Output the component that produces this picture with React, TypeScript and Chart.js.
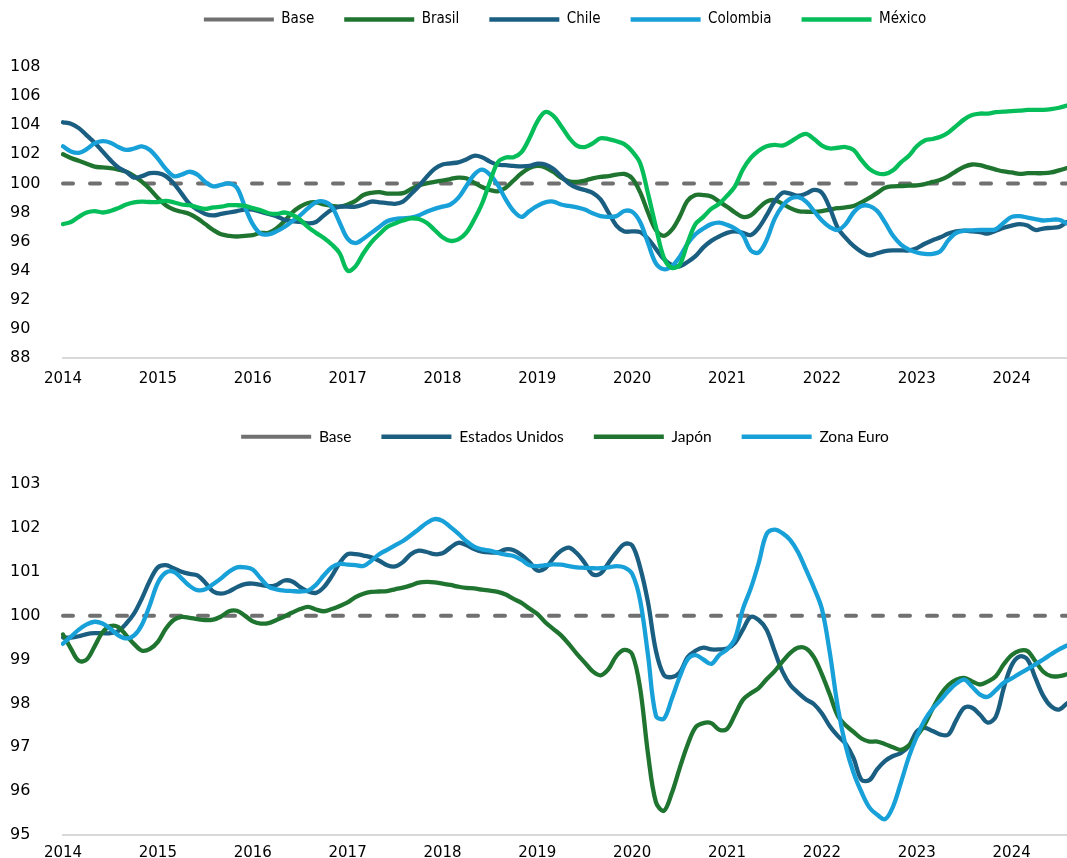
import { useEffect, useRef } from "react";
import { Chart, registerables } from "chart.js";

Chart.register(...registerables);

// ---------- categories (monthly, Jan 2014 – Aug 2024) ----------
const years = [2014, 2015, 2016, 2017, 2018, 2019, 2020, 2021, 2022, 2023, 2024];
const lastLabel = "2024-08";
const labels: string[] = [];
for (const y of years) {
  for (let mo = 1; mo <= 12; mo++) {
    const l = `${y}-${String(mo).padStart(2, "0")}`;
    if (labels.length === 0 || labels[labels.length - 1] !== lastLabel) labels.push(l);
  }
}

// ---------- top panel series ----------
const brasil = [
  102.0, 101.75, 101.55, 101.35, 101.15, 101.1, 101.05, 100.95, 100.8, 100.5, 100.1, 99.6,
  99.0, 98.5, 98.2, 98.05, 97.9, 97.6, 97.2, 96.8, 96.5, 96.4, 96.35, 96.4,
  96.45, 96.6, 96.6, 96.9, 97.4, 98.0, 98.4, 98.65, 98.7, 98.55, 98.45, 98.4,
  98.55, 98.8, 99.2, 99.35, 99.4, 99.3, 99.3, 99.33, 99.6, 99.85, 100.0, 100.1,
  100.2, 100.3, 100.4, 100.35, 100.05, 99.75, 99.55, 99.45, 99.7, 100.2, 100.7, 101.05,
  101.2, 101.1, 100.8, 100.4, 100.15, 100.1, 100.2, 100.35, 100.45, 100.5, 100.6, 100.65,
  100.35, 99.4, 98.0, 96.8, 96.4, 96.8, 97.7, 98.8, 99.2, 99.2, 99.1, 98.75,
  98.4, 98.0, 97.7, 97.8, 98.3, 98.75, 98.85, 98.6, 98.3, 98.1, 98.05, 98.05,
  98.1, 98.2, 98.3, 98.35, 98.45, 98.7, 99.0, 99.35, 99.7, 99.8, 99.82, 99.85,
  99.87, 99.95, 100.1, 100.25, 100.5, 100.85, 101.15, 101.3, 101.25, 101.1, 100.95, 100.82,
  100.75, 100.65, 100.7, 100.7, 100.7, 100.75, 100.9, 101.05,
];
const chile = [
  104.2, 104.1, 103.8, 103.3, 102.8, 102.2, 101.6, 101.1, 100.8, 100.4, 100.5, 100.7,
  100.7, 100.5, 100.0, 99.3, 98.6, 98.2, 97.9, 97.8, 97.9, 98.0, 98.1, 98.2,
  98.2, 98.05, 97.9, 97.75, 97.5, 97.4, 97.35, 97.25, 97.35, 97.8, 98.2, 98.4,
  98.4, 98.4, 98.55, 98.75, 98.7, 98.65, 98.6, 98.75, 99.25, 99.8, 100.45, 101.0,
  101.3, 101.38, 101.45, 101.65, 101.9, 101.8, 101.5, 101.28, 101.25, 101.2, 101.17, 101.2,
  101.35, 101.3, 101.0, 100.5, 100.0, 99.7, 99.55, 99.35, 98.9, 98.0, 97.1, 96.7,
  96.7, 96.65, 96.2, 95.5, 94.8, 94.4, 94.3, 94.6, 95.0, 95.6, 96.05, 96.35,
  96.6, 96.7, 96.6, 96.45, 96.95, 97.8, 98.75, 99.35, 99.3, 99.15, 99.3, 99.55,
  99.35, 98.3, 96.95, 96.25, 95.7, 95.3, 95.05, 95.2, 95.35, 95.4, 95.4, 95.4,
  95.55, 95.85, 96.1, 96.3, 96.55, 96.7, 96.75, 96.7, 96.65, 96.55, 96.75, 96.95,
  97.1, 97.2, 97.1, 96.8, 96.9, 96.95, 97.0, 97.35,
];
const colombia = [
  102.55, 102.2, 102.1, 102.35, 102.75, 102.9, 102.8, 102.5, 102.3, 102.4, 102.55, 102.3,
  101.7, 101.0, 100.5, 100.6, 100.8, 100.6, 100.1, 99.8, 99.9, 100.0, 99.7, 98.4,
  97.2, 96.55, 96.5, 96.7, 97.0, 97.4, 97.8, 98.3, 98.7, 98.75, 98.4, 97.3,
  96.2, 95.9, 96.2, 96.6, 97.0, 97.4, 97.55, 97.6, 97.65, 97.8, 98.05, 98.25,
  98.4, 98.55, 99.0, 99.8, 100.6, 100.95, 100.6, 99.9, 98.9, 98.1, 97.7, 98.1,
  98.45, 98.7, 98.75, 98.55, 98.45, 98.35, 98.2, 97.95, 97.75, 97.7, 97.75, 98.1,
  98.05, 97.35, 95.9, 94.5, 94.1, 94.3, 94.95, 95.85, 96.5, 96.9, 97.2, 97.3,
  97.15, 96.9, 96.45, 95.4, 95.25, 96.1, 97.55, 98.45, 98.95, 99.05, 98.75, 98.1,
  97.45, 97.0, 96.8, 97.2, 98.0, 98.45, 98.45, 98.1, 97.3, 96.4, 95.8, 95.45,
  95.25, 95.15, 95.15, 95.35, 96.1, 96.6, 96.75, 96.77, 96.8, 96.8, 96.85, 97.3,
  97.7, 97.75, 97.65, 97.55, 97.45, 97.5, 97.5, 97.25,
];
const mexico = [
  97.2, 97.35, 97.7, 98.0, 98.1, 98.0, 98.1, 98.3, 98.55, 98.7, 98.75, 98.72,
  98.72, 98.8, 98.7, 98.55, 98.5, 98.35, 98.25, 98.35, 98.4, 98.5, 98.5, 98.45,
  98.3, 98.15, 97.95, 97.9, 98.0, 97.85, 97.5, 97.0, 96.6, 96.25, 95.8, 95.2,
  94.0, 94.3, 95.2, 95.95, 96.5, 97.0, 97.25, 97.45, 97.6, 97.55, 97.3, 96.8,
  96.3, 96.05, 96.15, 96.6, 97.5, 98.6, 100.1, 101.45, 101.78, 101.8, 102.15, 103.1,
  104.25, 104.9, 104.65, 103.95, 103.15, 102.6, 102.5, 102.75, 103.1, 103.05, 102.9, 102.7,
  102.2, 101.4, 99.3, 97.0, 94.9, 94.2, 94.4, 95.9, 97.2, 97.7, 98.25, 98.6,
  99.15, 99.8, 100.95, 101.75, 102.25, 102.55, 102.65, 102.6, 102.85, 103.2, 103.4, 103.05,
  102.6, 102.4, 102.45, 102.5, 102.3, 101.6, 101.0, 100.7, 100.65, 100.9, 101.45, 101.9,
  102.55, 102.95, 103.05, 103.2, 103.5, 103.95, 104.4, 104.7, 104.8, 104.8, 104.9, 104.93,
  104.97, 105.0, 105.05, 105.05, 105.05, 105.1, 105.2, 105.35,
];

// ---------- bottom panel series ----------
const estadosUnidos = [
  99.5, 99.5, 99.53, 99.58, 99.6, 99.6, 99.6, 99.65, 99.82, 100.05, 100.4, 100.8,
  101.1, 101.15, 101.08, 101.0, 100.95, 100.92, 100.75, 100.55, 100.5, 100.55, 100.65, 100.72,
  100.73, 100.7, 100.67, 100.7, 100.8, 100.78, 100.65, 100.55, 100.52, 100.65, 100.9, 101.2,
  101.4, 101.4, 101.37, 101.33, 101.25, 101.15, 101.12, 101.22, 101.4, 101.48, 101.45, 101.4,
  101.42, 101.55, 101.66, 101.61, 101.52, 101.46, 101.44, 101.44, 101.51, 101.49, 101.38, 101.22,
  101.03, 101.08, 101.3, 101.48, 101.55, 101.42, 101.2, 100.94, 100.96, 101.2, 101.44, 101.63,
  101.6, 101.1, 100.3, 99.2, 98.65, 98.6, 98.7, 99.05, 99.2, 99.27, 99.23, 99.23,
  99.25, 99.38, 99.68, 99.97, 99.9, 99.68, 99.2, 98.73, 98.42, 98.24, 98.09, 97.98,
  97.77, 97.48, 97.26, 97.08, 96.75, 96.26, 96.25, 96.5, 96.69, 96.8, 96.87, 97.03,
  97.36, 97.44, 97.37, 97.29, 97.29, 97.62, 97.9, 97.9, 97.74, 97.56, 97.7, 98.35,
  98.87, 99.07, 99.0, 98.58, 98.17, 97.93, 97.86, 98.0,
];
const japon = [
  99.57, 99.25, 98.97, 99.0, 99.3, 99.62, 99.76, 99.74, 99.55, 99.35, 99.2, 99.24,
  99.4, 99.7, 99.9, 99.97, 99.95, 99.92, 99.9, 99.91, 99.98, 100.1, 100.11, 100.0,
  99.87, 99.82, 99.83, 99.9, 99.98, 100.07, 100.15, 100.2, 100.14, 100.1, 100.15, 100.22,
  100.3, 100.42, 100.5, 100.54, 100.55, 100.56, 100.6, 100.64, 100.69, 100.75, 100.77, 100.76,
  100.73, 100.7, 100.66, 100.63, 100.62, 100.59, 100.57, 100.54, 100.48, 100.38, 100.29, 100.16,
  100.04, 99.85, 99.7, 99.55, 99.35, 99.13, 98.93, 98.73, 98.64, 98.78, 99.08, 99.22,
  99.12, 98.35, 96.85, 95.75, 95.55, 95.95, 96.52, 97.05, 97.45, 97.55, 97.55, 97.4,
  97.42, 97.74, 98.08, 98.23, 98.35, 98.55, 98.73, 98.95, 99.15, 99.27, 99.25, 99.05,
  98.66, 98.2, 97.72, 97.5, 97.35, 97.2, 97.13, 97.13, 97.07, 97.0, 96.94, 97.04,
  97.25, 97.52, 97.88, 98.2, 98.42, 98.54, 98.58, 98.5, 98.43, 98.5, 98.62, 98.89,
  99.1, 99.2, 99.19, 98.96, 98.72, 98.62, 98.62, 98.66,
];
const zonaEuro = [
  99.36, 99.52, 99.68, 99.8, 99.86, 99.82, 99.7, 99.55, 99.48, 99.55, 99.8, 100.25,
  100.75, 100.98, 101.0, 100.85, 100.68, 100.58, 100.6, 100.72, 100.85, 101.0, 101.1, 101.1,
  101.05, 100.85, 100.66, 100.6, 100.57, 100.56, 100.55, 100.57, 100.7, 100.92, 101.1, 101.18,
  101.16, 101.15, 101.13, 101.25, 101.4, 101.5, 101.6, 101.7, 101.83, 101.97, 102.11, 102.2,
  102.16, 102.02, 101.87, 101.7, 101.57, 101.51, 101.48, 101.43, 101.39, 101.36, 101.27, 101.15,
  101.13, 101.15, 101.17, 101.16, 101.13, 101.1, 101.09, 101.08, 101.08, 101.1, 101.13, 101.1,
  100.95, 100.35, 99.1, 97.72, 97.65, 98.1, 98.6, 99.0, 99.1, 99.0, 98.9, 99.1,
  99.23, 99.48, 100.15, 100.62, 101.2, 101.86, 101.96, 101.88, 101.72, 101.44, 101.04, 100.63,
  100.15, 99.15, 97.92, 97.03, 96.42, 95.98, 95.63, 95.46, 95.36, 95.65, 96.2, 96.78,
  97.25, 97.62, 97.88, 98.07, 98.28, 98.45, 98.54, 98.38, 98.2, 98.15, 98.3, 98.47,
  98.57, 98.68, 98.78, 98.89, 99.0, 99.12, 99.23, 99.32,
];

const baseValue = 100;
const base = labels.map(() => baseValue);

// ---------- axis settings ----------
const topTicks = { min: 88, max: 108, step: 2 };
const bottomTicks = { min: 95, max: 103, step: 1 };

// ---------- styles ----------
const C_BASE = "#707070";
const C_DKGREEN = "#1F7430";
const C_TEAL = "#1A5F82";
const C_LTBLUE = "#18A0D8";
const C_GREEN = "#05BE5A";
const TICK_FONT = "'DejaVu Sans', sans-serif";

function series(label: string, data: number[], color: string, order: number) {
  return {
    label,
    data,
    borderColor: color,
    backgroundColor: color,
    borderWidth: 4.3,
    pointRadius: 0,
    pointHoverRadius: 0,
    pointStyle: "line",
    tension: 0.35,
    borderCapStyle: "round",
    borderJoinStyle: "round",
    fill: false,
    order,
  };
}

function baseSeries(order: number) {
  return {
    label: "Base",
    data: base,
    borderColor: C_BASE,
    backgroundColor: C_BASE,
    borderWidth: 4,
    borderDash: [10, 17],
    borderCapStyle: "round",
    pointRadius: 0,
    pointHoverRadius: 0,
    pointStyle: "line",
    tension: 0,
    fill: false,
    order,
  };
}

function legendHeightPlugin(h: number) {
  return {
    id: "legendHeight",
    beforeLayout(chart: any) {
      const lg = chart.legend;
      if (lg && !lg._fixedH) {
        const orig = lg.fit;
        lg.fit = function () {
          orig.call(this);
          this.height = h;
        };
        lg._fixedH = true;
      }
    },
  };
}

function makeConfig(opts: {
  datasets: any[];
  ticks: { min: number; max: number; step: number };
  legendFont: any;
  legendH: number;
  padTop: number;
  tickPad: number;
}) {
  return {
    type: "line",
    data: { labels, datasets: opts.datasets },
    plugins: [legendHeightPlugin(opts.legendH)],
    options: {
      responsive: false,
      animation: false,
      events: [],
      layout: { padding: { left: 10, right: 0, top: opts.padTop, bottom: 0 } },
      plugins: {
        tooltip: { enabled: false },
        legend: {
          position: "top",
          fullSize: false,
          labels: {
            usePointStyle: true,
            pointStyle: "line",
            pointStyleWidth: 70,
            padding: 30,
            color: "#000",
            font: opts.legendFont,
            sort: (a: any, b: any) => a.datasetIndex - b.datasetIndex,
          },
        },
      },
      scales: {
        x: {
          type: "category",
          offset: false,
          grid: { display: false, drawTicks: false },
          border: { display: true, color: "#D9D9D9", width: 2 },
          ticks: {
            autoSkip: false,
            maxRotation: 0,
            minRotation: 0,
            padding: opts.tickPad,
            color: "#000",
            font: { family: TICK_FONT, size: 15 },
            callback: (_v: any, i: number) =>
              labels[i].endsWith("-01") ? labels[i].slice(0, 4) : null,
          },
        },
        y: {
          min: opts.ticks.min,
          max: opts.ticks.max,
          grid: { display: false, drawTicks: false },
          border: { display: false },
          afterFit: (scale: any) => {
            scale.width = 53;
          },
          ticks: {
            stepSize: opts.ticks.step,
            crossAlign: "far",
            color: "#000",
            font: { family: TICK_FONT, size: 16 },
          },
        },
      },
    },
  };
}

function ChartCanvas({ config, top, height }: { config: any; top: number; height: number }) {
  const ref = useRef<HTMLCanvasElement>(null);
  useEffect(() => {
    const chart = new Chart(ref.current as HTMLCanvasElement, config);
    return () => chart.destroy();
  }, [config]);
  return (
    <canvas
      ref={ref}
      width={1067}
      height={height}
      style={{ position: "absolute", left: 0, top, width: 1067, height }}
    />
  );
}

const topConfig = makeConfig({
  datasets: [
    baseSeries(4),
    series("Brasil", brasil, C_DKGREEN, 3),
    series("Chile", chile, C_TEAL, 2),
    series("Colombia", colombia, C_LTBLUE, 1),
    series("México", mexico, C_GREEN, 0),
  ],
  ticks: topTicks,
  legendFont: { family: "'DejaVu Sans Condensed', 'Liberation Sans', sans-serif", size: 15 },
  legendH: 85,
  padTop: -18,
  tickPad: 12,
});

const bottomConfig = makeConfig({
  datasets: [
    baseSeries(3),
    series("Estados Unidos", estadosUnidos, C_TEAL, 2),
    series("Japón", japon, C_DKGREEN, 1),
    series("Zona Euro", zonaEuro, C_LTBLUE, 0),
  ],
  ticks: bottomTicks,
  legendFont: { family: "Lato, sans-serif", size: 15.5 },
  legendH: 85,
  padTop: -1,
  tickPad: 9,
});

export default function App() {
  return (
    <div
      style={{
        position: "absolute",
        left: 0,
        top: 0,
        width: 1067,
        height: 858,
        overflow: "hidden",
        background: "#fff",
      }}
    >
      <ChartCanvas config={topConfig} top={0} height={400} />
      <ChartCanvas config={bottomConfig} top={400} height={471} />
    </div>
  );
}
